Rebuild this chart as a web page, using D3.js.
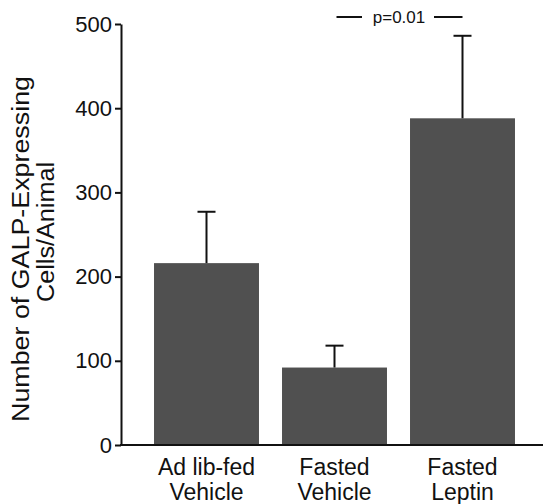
<!DOCTYPE html>
<html>
<head>
<meta charset="utf-8">
<script src="https://cdn.jsdelivr.net/npm/d3@7"></script>
<style>
  html, body { margin: 0; padding: 0; background: #fff; }
  svg { display: block; }
  text { font-family: "Liberation Sans", Arial, Helvetica, sans-serif; fill: #111; }
</style>
</head>
<body>
<svg id="chart" width="546" height="504"></svg>
<script>
// ---- data ----
const categories = ["Ad lib-fed|Vehicle", "Fasted|Vehicle", "Fasted|Leptin"];
const means = [216, 92, 388];
const errors = [61, 26, 98];
const yTicks = [0, 100, 200, 300, 400, 500];
const yTitleLines = ["Number of GALP-Expressing", "Cells/Animal"];
const pLabel = "p=0.01";
const pPair = [1, 2];

// ---- drawing ----
const svg = d3.select("#chart");
const x = d3.scaleBand().domain(categories).range([142.5, 526.5])
  .paddingInner(0.18).paddingOuter(0.09);
const y = d3.scaleLinear().domain([0, 500]).range([445, 24]);
const axisX0 = 121;

// bars
svg.append("g").selectAll("rect").data(categories).join("rect")
  .attr("x", d => x(d))
  .attr("width", x.bandwidth())
  .attr("y", (d, i) => y(means[i]))
  .attr("height", (d, i) => y(0) - y(means[i]))
  .attr("fill", "#505050");

// error bars (upper only)
const eb = svg.append("g").attr("stroke", "#111").attr("stroke-width", 2);
categories.forEach((c, i) => {
  const cx = x(c) + x.bandwidth() / 2;
  eb.append("line").attr("x1", cx).attr("x2", cx)
    .attr("y1", y(means[i])).attr("y2", y(means[i] + errors[i]));
  eb.append("line").attr("x1", cx - 9).attr("x2", cx + 9)
    .attr("y1", y(means[i] + errors[i])).attr("y2", y(means[i] + errors[i]));
});

// y axis
const yAxis = d3.axisLeft(y).tickValues(yTicks).tickSize(6).tickPadding(3).tickSizeOuter(0);
const gy = svg.append("g").attr("transform", `translate(${axisX0},0)`).call(yAxis);
gy.select(".domain").attr("stroke", "#111").attr("stroke-width", 2);
gy.selectAll(".tick line").attr("stroke", "#111").attr("stroke-width", 2);
gy.selectAll(".tick text").attr("font-size", 22).attr("fill", "#111")
  .attr("font-family", "'Liberation Sans', Arial, sans-serif");

// x axis line
svg.append("line").attr("x1", axisX0 - 1).attr("x2", 543)
  .attr("y1", y(0)).attr("y2", y(0))
  .attr("stroke", "#111").attr("stroke-width", 2);

// category labels
const xl = svg.append("g");
categories.forEach(c => {
  const cx = x(c) + x.bandwidth() / 2;
  const parts = c.split("|");
  parts.forEach((p, j) => {
    xl.append("text").attr("x", cx).attr("y", 475 + j * 25)
      .attr("text-anchor", "middle").attr("font-size", 23).text(p);
  });
});

// y title
const ty = svg.append("g");
ty.append("text")
  .attr("transform", "translate(29,249) rotate(-90)")
  .attr("text-anchor", "middle").attr("font-size", 23)
  .attr("textLength", 346).attr("lengthAdjust", "spacingAndGlyphs")
  .text(yTitleLines[0]);
ty.append("text")
  .attr("transform", "translate(54,232) rotate(-90)")
  .attr("text-anchor", "middle").attr("font-size", 23)
  .attr("textLength", 140).attr("lengthAdjust", "spacingAndGlyphs")
  .text(yTitleLines[1]);

// significance marker
const xa = x(categories[pPair[0]]) + x.bandwidth() / 2;
const xb = x(categories[pPair[1]]) + x.bandwidth() / 2;
const sy = 17;
const sg = svg.append("g");
sg.append("line").attr("x1", xa + 2).attr("x2", 362).attr("y1", sy).attr("y2", sy)
  .attr("stroke", "#111").attr("stroke-width", 2);
sg.append("line").attr("x1", 434).attr("x2", xb).attr("y1", sy).attr("y2", sy)
  .attr("stroke", "#111").attr("stroke-width", 2);
sg.append("text").attr("x", 399).attr("y", 23).attr("text-anchor", "middle")
  .attr("font-size", 17).text(pLabel);
</script>
</body>
</html>
